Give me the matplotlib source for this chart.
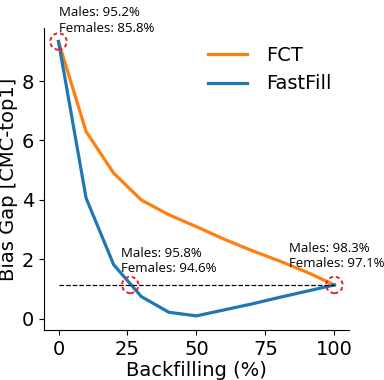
import matplotlib.pyplot as plt

plt.rcParams['font.family'] = ['DejaVu Sans']

backfill = [0, 10, 20, 30, 40, 50, 60, 70, 80, 90, 100]
fct = [9.33, 6.3, 4.9, 4.0, 3.5, 3.1, 2.68, 2.3, 1.95, 1.57, 1.14]
fastfill = [9.33, 4.06, 1.82, 0.75, 0.22, 0.1, 0.3, 0.5, 0.72, 0.93, 1.14]

gap_level = 1.14
marked_x = [0, 26, 100]
marked_y = [9.33, gap_level, gap_level]
notes = ["Males: 95.2%\nFemales: 85.8%",
         "Males: 95.8%\nFemales: 94.6%",
         "Males: 98.3%\nFemales: 97.1%"]
note_pos = [(0.3, 9.55), (22.5, 1.46), (83.6, 1.63)]

fig = plt.figure(figsize=(3.84, 3.80), dpi=100)
ax = fig.add_axes([0.115, 0.132, 0.794, 0.794])

ax.plot(backfill, fct, color='#ff7f0e', lw=2.3, label='FCT')
ax.plot(backfill, fastfill, color='#1f77b4', lw=2.3, label='FastFill')
ax.plot([0, 100], [gap_level, gap_level], 'k--', lw=0.9)
ax.scatter(marked_x, marked_y, s=140, facecolors='none', edgecolors='#e8202a',
           linestyle=(0, (2, 1.5)), linewidths=1.4, zorder=5)

for txt, (tx, ty) in zip(notes, note_pos):
    ax.text(tx, ty, txt, fontsize=9.5, va='bottom', ha='left', linespacing=1.25,
            family=['Open Sans', 'DejaVu Sans'])

ax.set_xlim(-5.2, 105.3)
ax.set_ylim(-0.37, 9.78)
ax.set_xticks([0, 25, 50, 75, 100])
ax.set_yticks([0, 2, 4, 6, 8])
ax.tick_params(labelsize=14)
ax.set_xlabel('Backfilling (%)', fontsize=14, labelpad=2)
ax.set_ylabel('Bias Gap [CMC-top1]', fontsize=14, labelpad=3)
ax.spines['top'].set_visible(False)
ax.spines['right'].set_visible(False)

ax.legend(loc='upper left', bbox_to_anchor=(0.48, 1.0), frameon=False,
          fontsize=14, handlelength=2.0, handletextpad=1.0)

fig.savefig('out.png', dpi=100)
